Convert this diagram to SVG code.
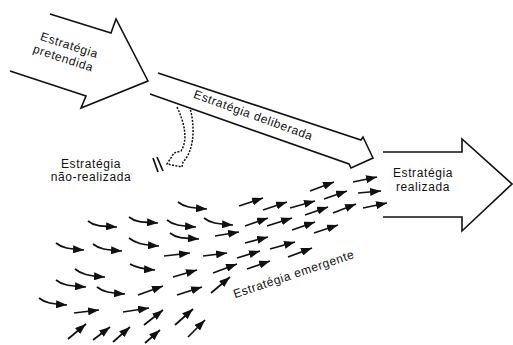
<svg xmlns="http://www.w3.org/2000/svg" width="513" height="345" viewBox="0 0 513 345">
<style>
.big{fill:none;stroke:#111;stroke-width:1.6;stroke-linejoin:miter}
.lbl{font-family:"Liberation Sans",Arial,sans-serif;font-size:12px;letter-spacing:0.6px;fill:#111;text-anchor:middle}
.sm{fill:none;stroke:#111;stroke-width:1.7}
.dash{fill:none;stroke:#111;stroke-width:1.5;stroke-dasharray:2 1.4}
</style>
<defs>
<marker id="ah" markerUnits="userSpaceOnUse" markerWidth="11" markerHeight="8" viewBox="0 0 11 8" refX="11" refY="4" orient="auto">
<path d="M0,0 L11,4 L0,8 Z" fill="#111"/>
</marker>
</defs>
<rect width="513" height="345" fill="#fff"/>

<g id="pretendida">
<polyline class="big" points="50,14 111,33 116,19 148,81 81,108 86,96 10,71"/>
<text class="lbl" transform="translate(68,49) rotate(18)">Estratégia</text>
<text class="lbl" transform="translate(62,62) rotate(18)">pretendida</text>
</g>

<g id="deliberada">
<polyline class="big" points="158,73 361,140 363,137 373,158 351,168 349,164 150,94"/>
<text class="lbl" transform="translate(252,119) rotate(20)">Estratégia deliberada</text>
</g>

<g id="realizada">
<polyline class="big" points="383,152 462,152 462,139 512,184 462,231 462,217 383,217"/>
<text class="lbl" x="423" y="177">Estratégia</text>
<text class="lbl" x="423" y="191">realizada</text>
</g>

<g id="nao-realizada">
<text class="lbl" x="91" y="168">Estratégia</text>
<text class="lbl" x="91" y="181">não-realizada</text>
</g>

<g id="emergente">
<g class="sm">
<path d="M178 202 c6 5 13 6 29 7" marker-end="url(#ah)"/>
<path d="M88 221 c6 5 13 5 29 6" marker-end="url(#ah)"/>
<path d="M129 217 c6 5 13 5 29 6" marker-end="url(#ah)"/>
<path d="M167 220 c6 5 13 6 29 7" marker-end="url(#ah)"/>
<path d="M204 218 c6 5 13 6 29 7" marker-end="url(#ah)"/>
<path d="M170 233 c6 5 13 5 29 6" marker-end="url(#ah)"/>
<path d="M56 243 c6 5 13 6 28 7" marker-end="url(#ah)"/>
<path d="M93 244 c6 5 13 6 29 7" marker-end="url(#ah)"/>
<path d="M129 238 c6 5 13 7 30 8" marker-end="url(#ah)"/>
<path d="M75 269 c6 5 13 7 30 8" marker-end="url(#ah)"/>
<path d="M130 264 c5 3 11 5 25 6" marker-end="url(#ah)"/>
<path d="M56 280 c6 5 13 6 30 7" marker-end="url(#ah)"/>
<path d="M97 287 c6 5 13 6 28 7" marker-end="url(#ah)"/>
<path d="M39 298 c6 5 13 6 28 7" marker-end="url(#ah)"/>
<line x1="215" y1="236" x2="239" y2="232" marker-end="url(#ah)"/>
<line x1="164" y1="256" x2="190" y2="253" marker-end="url(#ah)"/>
<line x1="203" y1="256" x2="227" y2="253" marker-end="url(#ah)"/>
<line x1="74" y1="313" x2="99" y2="310" marker-end="url(#ah)"/>
<line x1="123" y1="312" x2="149" y2="308" marker-end="url(#ah)"/>
<line x1="138" y1="295" x2="163" y2="286" marker-end="url(#ah)"/>
<line x1="177" y1="295" x2="202" y2="287" marker-end="url(#ah)"/>
<line x1="173" y1="277" x2="197" y2="270" marker-end="url(#ah)"/>
<line x1="213" y1="273" x2="237" y2="264" marker-end="url(#ah)"/>
<line x1="211" y1="293" x2="230" y2="277" marker-end="url(#ah)"/>
<line x1="144" y1="325" x2="163" y2="310" marker-end="url(#ah)"/>
<line x1="175" y1="325" x2="193" y2="309" marker-end="url(#ah)"/>
<line x1="188" y1="337" x2="205" y2="320" marker-end="url(#ah)"/>
<line x1="68" y1="339" x2="86" y2="324" marker-end="url(#ah)"/>
<line x1="93" y1="340" x2="110" y2="327" marker-end="url(#ah)"/>
<line x1="113" y1="342" x2="130" y2="327" marker-end="url(#ah)"/>
<line x1="145" y1="343" x2="160" y2="330" marker-end="url(#ah)"/>
<line x1="239" y1="206" x2="263" y2="198" marker-end="url(#ah)"/>
<line x1="310" y1="191" x2="334" y2="182" marker-end="url(#ah)"/>
<line x1="353" y1="182" x2="377" y2="177" marker-end="url(#ah)"/>
<line x1="324" y1="199" x2="347" y2="191" marker-end="url(#ah)"/>
<line x1="358" y1="193" x2="381" y2="191" marker-end="url(#ah)"/>
<line x1="263" y1="210" x2="287" y2="202" marker-end="url(#ah)"/>
<line x1="290" y1="208" x2="315" y2="201" marker-end="url(#ah)"/>
<line x1="305" y1="215" x2="328" y2="207" marker-end="url(#ah)"/>
<line x1="333" y1="213" x2="356" y2="204" marker-end="url(#ah)"/>
<line x1="363" y1="208" x2="387" y2="203" marker-end="url(#ah)"/>
<line x1="245" y1="226" x2="268" y2="218" marker-end="url(#ah)"/>
<line x1="267" y1="226" x2="292" y2="218" marker-end="url(#ah)"/>
<line x1="292" y1="230" x2="315" y2="222" marker-end="url(#ah)"/>
<line x1="245" y1="243" x2="268" y2="237" marker-end="url(#ah)"/>
<line x1="270" y1="249" x2="295" y2="242" marker-end="url(#ah)"/>
<line x1="314" y1="233" x2="338" y2="225" marker-end="url(#ah)"/>
<line x1="288" y1="257" x2="312" y2="248" marker-end="url(#ah)"/>
<line x1="237" y1="258" x2="260" y2="251" marker-end="url(#ah)"/>
<line x1="247" y1="269" x2="270" y2="261" marker-end="url(#ah)"/>
</g>
<text class="lbl" transform="translate(295,278) rotate(-18.6)">Estratégia emergente</text>
</g>

<g id="connectors">
<path class="dash" d="M177 107 C185 124 188 140 181 151 L174 153 L167 164 L182 167 L183 162 C193 152 196 130 190 108"/>
<line class="sm" x1="153" y1="158" x2="158" y2="172" stroke-width="1.4"/>
<line class="sm" x1="157" y1="157" x2="163" y2="171" stroke-width="1.4"/>
</g>
</svg>
